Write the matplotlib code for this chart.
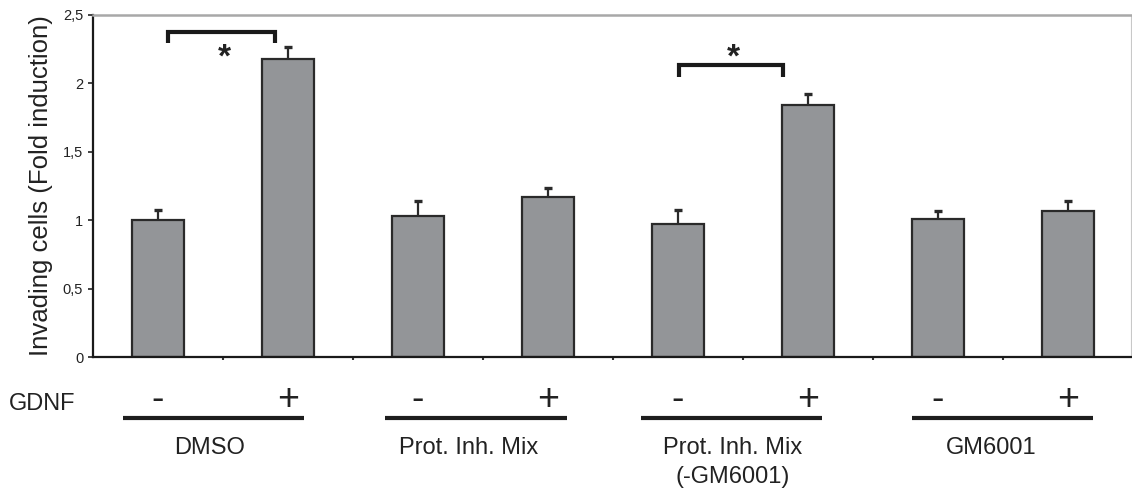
import matplotlib
matplotlib.use("Agg")
import matplotlib.pyplot as plt
from matplotlib.transforms import blended_transform_factory

plt.rcParams['font.family'] = ['Liberation Sans', 'DejaVu Sans']

# ---- data ----
groups = ["DMSO", "Prot. Inh. Mix", "Prot. Inh. Mix\n(-GM6001)", "GM6001"]
gdnf = ["-", "+", "-", "+", "-", "+", "-", "+"]
values = [1.00, 2.18, 1.03, 1.17, 0.97, 1.84, 1.01, 1.07]
errors = [0.075, 0.085, 0.11, 0.07, 0.105, 0.085, 0.055, 0.07]
yticks = [0, 0.5, 1, 1.5, 2, 2.5]
ytick_labels = ["0", "0,5", "1", "1,5", "2", "2,5"]
ylabel = "Invading cells (Fold induction)"
# significance brackets: (x start, x end, bracket top, leg bottom, star x, star baseline)
brackets = [(0.08, 0.90, 2.376, 2.296, 0.51, 2.125),
            (4.01, 4.81, 2.138, 2.045, 4.43, 2.123)]

W, H = 1132, 490
fig = plt.figure(figsize=(W / 100, H / 100), dpi=100)
ax = fig.add_axes([93 / W, 1 - 357.3 / H, 1038 / W, (357.3 - 15) / H])

x = list(range(len(values)))
bar_face = "#939598"
edge = "#2a2a2a"
ax.bar(x, values, width=0.405, color=bar_face, edgecolor=edge, linewidth=1.6, zorder=2)

# upper-only error bars with a cap
tops = [v + e for v, e in zip(values, errors)]
ax.vlines(x, values, tops, colors=edge, linewidth=1.6, zorder=3)
cap_half = 0.028
ax.hlines(tops, [xi - cap_half for xi in x], [xi + cap_half for xi in x],
          colors=edge, linewidth=2.4, zorder=3)

ax.set_xlim(-0.5, 7.485)
ax.set_ylim(0, 2.5)
ax.set_yticks(yticks)
ax.set_yticklabels(ytick_labels, fontsize=10.5, color="#222222")
ax.set_xticks([i + 0.5 for i in range(7)])
ax.set_xticklabels([])
ax.tick_params(axis="y", direction="out", length=3.6, width=1.2, pad=3.5, color="#222222")
ax.tick_params(axis="x", direction="out", length=2.5, width=1.5, color="#333333")

for s in ("left", "bottom"):
    ax.spines[s].set_color("#1a1a1a")
    ax.spines[s].set_linewidth(1.6)
ax.spines["top"].set_color("#a8a8a8")
ax.spines["top"].set_linewidth(1.8)
ax.spines["right"].set_color("#c8c8c8")
ax.spines["right"].set_linewidth(0.8)

# significance brackets and stars
for x0, x1, ytop, ybot, sx, sy in brackets:
    ax.plot([x0, x0, x1, x1], [ybot, ytop, ytop, ybot], color="#1a1a1a",
            linewidth=3.0, solid_joinstyle="miter", solid_capstyle="butt",
            clip_on=False, zorder=4)
    ax.text(sx, sy, "*", fontsize=24, ha="center", va="baseline", color="#222222",
            fontweight="bold")

fig.text(41 / W, 1 - 186 / H, ylabel, rotation=90, ha="center", va="center",
         fontsize=18.5, color="#222222")

# treatment annotation under the axis
trans = blended_transform_factory(ax.transData, fig.transFigure)
fig.text(9 / W, 1 - 409.5 / H, "GDNF", ha="left", va="baseline", fontsize=17,
         color="#222222")
for xi, sign in zip(x, gdnf):
    fig.text(0, 0, sign, transform=trans, ha="center", va="baseline",
             fontsize=27, color="#222222").set_position((xi, 1 - 409.5 / H))

line_centers = [0.427, 2.446, 4.41, 6.496]
label_centers = [0.40, 2.39, 4.42, 6.41]
for name, lc, tc in zip(groups, line_centers, label_centers):
    ax.plot([lc - 0.697, lc + 0.697], [1 - 417.5 / H] * 2, transform=trans,
            color="#1e1e1e", linewidth=3.0, solid_capstyle="butt", clip_on=False)
    for k, line in enumerate(name.split("\n")):
        fig.text(0, 0, line, transform=trans, ha="center", va="baseline",
                 fontsize=17, color="#222222").set_position((tc, 1 - (453.8 + 29 * k) / H))

fig.savefig("out.png", dpi=100)
